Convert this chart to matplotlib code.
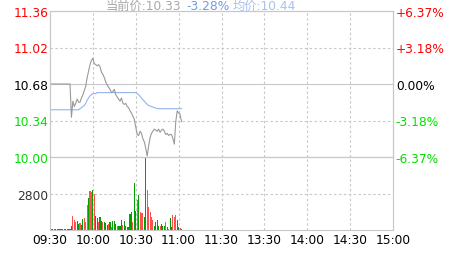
import matplotlib
matplotlib.use('Agg')
import matplotlib.pyplot as plt

# intraday data, one value per minute from 09:30
prev_close = 10.68
price = [
    10.68, 10.68, 10.68, 10.68, 10.68, 10.68, 10.68, 10.68, 10.68, 10.68,
    10.68, 10.68, 10.68, 10.68, 10.68, 10.37, 10.52, 10.47, 10.50, 10.54,
    10.51, 10.51, 10.55, 10.58, 10.62, 10.66, 10.74, 10.80, 10.86, 10.90,
    10.92, 10.87, 10.86, 10.85, 10.86, 10.84, 10.79, 10.77, 10.74, 10.70,
    10.67, 10.65, 10.63, 10.60, 10.61, 10.63, 10.58, 10.56, 10.54, 10.52,
    10.55, 10.50, 10.49, 10.50, 10.47, 10.46, 10.43, 10.41, 10.38, 10.35,
    10.28, 10.21, 10.20, 10.24, 10.22, 10.17, 10.14, 10.08, 10.01, 10.10,
    10.18, 10.22, 10.24, 10.26, 10.25, 10.24, 10.26, 10.23, 10.25, 10.26,
    10.24, 10.21, 10.22, 10.20, 10.21, 10.21, 10.17, 10.12, 10.33, 10.43,
    10.41, 10.40, 10.33,
]
avg_price = [
    10.44, 10.44, 10.44, 10.44, 10.44, 10.44, 10.44, 10.44, 10.44, 10.44,
    10.44, 10.44, 10.44, 10.44, 10.44, 10.44, 10.44, 10.44, 10.44, 10.44,
    10.44, 10.45, 10.46, 10.47, 10.48, 10.50, 10.53, 10.55, 10.57, 10.58,
    10.59, 10.59, 10.59, 10.60, 10.60, 10.60, 10.60, 10.60, 10.60, 10.60,
    10.60, 10.60, 10.60, 10.60, 10.60, 10.60, 10.60, 10.60, 10.60, 10.60,
    10.60, 10.60, 10.60, 10.60, 10.60, 10.60, 10.60, 10.60, 10.60, 10.60,
    10.60, 10.59, 10.58, 10.565, 10.55, 10.535, 10.52, 10.505, 10.49, 10.48,
    10.475, 10.47, 10.465, 10.46, 10.455, 10.45, 10.45, 10.45, 10.45, 10.45,
    10.45, 10.45, 10.45, 10.45, 10.45, 10.45, 10.45, 10.45, 10.45, 10.45,
    10.45, 10.45, 10.45,
]
volume = [
    60, 60, 60, 60, 60, 60, 60, 60, 60, 60,
    60, 60, 60, 60, 60, 300, 1100, 750, 650, 700,
    450, 550, 400, 850, 920, 600, 1920, 2450, 3010, 2950,
    3070, 2760, 1100, 900, 600, 1000, 700, 600, 600, 500,
    400, 450, 600, 200, 660, 660, 450, 300, 300, 330,
    800, 400, 700, 330, 250, 200, 1230, 1350, 650, 3600,
    1450, 2320, 2680, 1350, 1300, 1300, 1020, 5600, 3070, 1760,
    1350, 1000, 750, 300, 590, 770, 330, 330, 460, 330,
    280, 600, 250, 80, 900, 200, 1150, 1000, 1170, 800,
    200, 150, 100,
]
# 1 = up (red), -1 = down (green), 0 = flat
direction = [
    0, -1, -1, -1, -1, -1, -1, -1, -1, -1,
    -1, -1, -1, -1, -1, -1, 1, 1, 1, -1,
    -1, 1, -1, -1, 1, 1, 1, -1, 1, 1,
    -1, 1, -1, -1, 1, -1, -1, 1, -1, -1,
    -1, 1, -1, 1, -1, -1, -1, 1, -1, -1,
    -1, 1, -1, -1, -1, -1, -1, -1, 1, -1,
    -1, 1, -1, 1, 1, 1, -1, -1, 1, 1,
    1, 1, 1, -1, -1, -1, -1, 1, -1, -1,
    -1, 1, -1, 1, -1, -1, 1, 1, 1, -1,
    -1, 1, -1,
]

price_ticks = [10.00, 10.34, 10.68, 11.02, 11.36]
pct_labels = ['-6.37%', '-3.18%', '0.00%', '+3.18%', '+6.37%']
time_ticks = [0, 30, 60, 90, 120, 150, 180, 210, 240]
time_labels = ['09:30', '10:00', '10:30', '11:00', '11:30', '13:30', '14:00', '14:30', '15:00']
vol_tick = 2800
vol_max = 5600

W, H = 463, 255
GRID = '#c8c8c8'
RED = '#ff0000'
GREEN = '#00e000'
FS = 8.8

fig = plt.figure(figsize=(W / 100, H / 100), dpi=100)
left, right = 50, 393
ax = fig.add_axes([left / W, 1 - 158 / H, (right - left) / W, 146 / H])
axv = fig.add_axes([left / W, 1 - 231 / H, (right - left) / W, 73 / H])

minutes = list(range(len(price)))

for a in (ax, axv):
    a.set_xlim(0, 240)
    for s in a.spines.values():
        s.set_color(GRID)
        s.set_linewidth(0.8)
    for t in time_ticks[1:-1]:
        a.axvline(t, color=GRID, lw=0.8, dashes=(2.2, 2.2), zorder=0)
    a.tick_params(length=0)

# price panel
ax.set_ylim(price_ticks[0], price_ticks[-1])
ax.axhline(prev_close, color=GRID, lw=0.8, zorder=0)
for p in (price_ticks[1], price_ticks[3]):
    ax.axhline(p, color=GRID, lw=0.8, dashes=(2.2, 2.2), zorder=0)
ax.plot(minutes, avg_price, color='#94b4ee', lw=0.8, zorder=2)
ax.plot(minutes, price, color='#9a9a9a', lw=0.8, zorder=3)
ax.set_xticks([])

def level_color(p):
    if p > prev_close + 1e-6:
        return RED
    if p < prev_close - 1e-6:
        return GREEN
    return 'black'

ax.set_yticks(price_ticks)
ax.set_yticklabels(['%.2f' % p for p in price_ticks], fontsize=FS)
for lab, p in zip(ax.get_yticklabels(), price_ticks):
    lab.set_color(level_color(p))
ax.tick_params(axis='y', pad=1)

axr = ax.twinx()
axr.set_ylim(ax.get_ylim())
axr.set_yticks(price_ticks)
axr.set_yticklabels(pct_labels, fontsize=FS)
for lab, p in zip(axr.get_yticklabels(), price_ticks):
    lab.set_color(level_color(p))
axr.tick_params(length=0, pad=2)
for s in axr.spines.values():
    s.set_color(GRID)
    s.set_linewidth(0.8)

# volume panel
colors = ['#ff5050' if d > 0 else ('#00a000' if d < 0 else '#333333') for d in direction]
axv.bar(minutes, volume, width=0.75, color=colors, linewidth=0, zorder=2)
axv.set_ylim(0, vol_max)
axv.axhline(vol_tick, color=GRID, lw=0.8, dashes=(2.2, 2.2), zorder=0)
axv.set_yticks([vol_tick])
axv.set_yticklabels([str(vol_tick)], fontsize=FS, color='#333333')
axv.tick_params(axis='y', pad=1)
axv.set_xticks(time_ticks)
axv.set_xticklabels(time_labels, fontsize=FS)
axv.tick_params(axis='x', pad=2)

# header
fam = ['DejaVu Sans', 'Noto Sans CJK SC']
y_hdr = 1 - 9.5 / H
fig.text(106 / W, y_hdr, '当前价:%.2f' % price[-1], color='#a8a8a8', fontsize=FS, family=fam, va='baseline')
chg = (price[-1] - prev_close) / prev_close * 100
fig.text(186 / W, y_hdr, '%.2f%%' % chg, color='#6f9be8', fontsize=FS, family=fam, va='baseline')
fig.text(233 / W, y_hdr, '均价:%.2f' % 10.44, color='#a9c1ee', fontsize=FS, family=fam, va='baseline')

fig.savefig('out.png', dpi=100)
